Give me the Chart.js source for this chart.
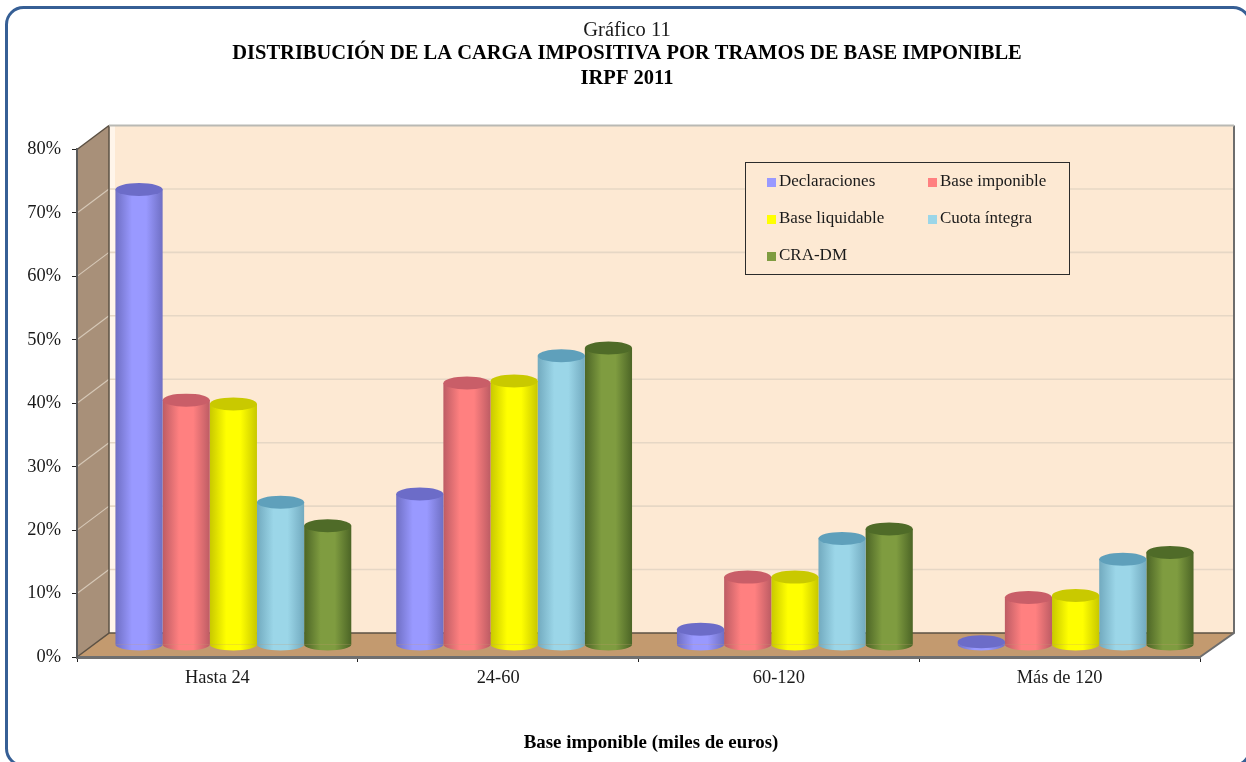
<html>
<head>
<meta charset="utf-8">
<style>
html, body { margin: 0; padding: 0; background: #ffffff; overflow: hidden; }
canvas { display: block; }
</style>
<script src="https://cdn.jsdelivr.net/npm/chart.js"></script>
</head>
<body>
<canvas id="grafico" width="1246" height="762"></canvas>
<script>
const tramos = ['Hasta 24', '24-60', '60-120', 'Más de 120'];
const declaraciones = [71.8, 23.8, 2.5, 0.5];
const baseImponible = [38.6, 41.3, 10.7, 7.5];
const baseLiquidable = [38, 41.6, 10.7, 7.8];
const cuotaIntegra = [22.5, 45.6, 16.8, 13.5];
const craDm = [18.8, 46.8, 18.3, 14.6];
const nombres = ['Declaraciones', 'Base imponible', 'Base liquidable', 'Cuota íntegra', 'CRA-DM'];
const yTicks = [0, 10, 20, 30, 40, 50, 60, 70, 80];

const FONT = '"Liberation Serif", "Times New Roman", serif';
const DEPTH_X = 32;
const DEPTH_Y = 24;

// side, middle, top cap colours of each cylinder
const colores = [
  ['#6f6fc4', '#9999ff', '#6c6cc8'],
  ['#bd5c64', '#ff8080', '#c95e68'],
  ['#c8c800', '#ffff00', '#c9c900'],
  ['#72aabf', '#9bd6e8', '#5fa0bb'],
  ['#4c6526', '#7f9c40', '#4f6b28']
];

function cylinderGradient(ctx, el, c) {
  const g = ctx.createLinearGradient(el.x - el.width / 2, 0, el.x + el.width / 2, 0);
  g.addColorStop(0, c[0]);
  g.addColorStop(0.35, c[1]);
  g.addColorStop(0.65, c[1]);
  g.addColorStop(1, c[0]);
  return g;
}

// frame, walls and floor behind the bars
const fondo3d = {
  id: 'fondo3d',
  afterLayout(chart) {
    // titles are centred a bit right of the plot
    chart.boxes.forEach(function (b) {
      if (!b.axis) {
        b.left += 17;
        b.right += 17;
      }
    });
  },
  beforeDraw(chart) {
    const ctx = chart.ctx;
    const a = chart.chartArea;
    const y = chart.scales.y;

    ctx.save();
    ctx.fillStyle = '#ffffff';
    ctx.fillRect(0, 0, chart.width, chart.height);

    ctx.strokeStyle = '#365f95';
    ctx.lineWidth = 3;
    ctx.beginPath();
    ctx.roundRect(6.5, 7.5, 1243.5, 758, 17);
    ctx.stroke();

    // back wall
    ctx.fillStyle = '#fde9d3';
    ctx.fillRect(a.left + DEPTH_X, a.top - DEPTH_Y, a.width + 2, a.height);
    ctx.fillStyle = '#fff5ea';
    ctx.fillRect(a.left + DEPTH_X, a.top - DEPTH_Y, 6, a.height);

    // side wall
    ctx.fillStyle = '#a89079';
    ctx.beginPath();
    ctx.moveTo(a.left, a.top);
    ctx.lineTo(a.left + DEPTH_X, a.top - DEPTH_Y);
    ctx.lineTo(a.left + DEPTH_X, a.bottom - DEPTH_Y);
    ctx.lineTo(a.left, a.bottom);
    ctx.closePath();
    ctx.fill();

    // floor
    ctx.fillStyle = '#c39a6f';
    ctx.beginPath();
    ctx.moveTo(a.left, a.bottom);
    ctx.lineTo(a.right, a.bottom);
    ctx.lineTo(a.right + DEPTH_X + 2, a.bottom - DEPTH_Y);
    ctx.lineTo(a.left + DEPTH_X, a.bottom - DEPTH_Y);
    ctx.closePath();
    ctx.fill();

    // gridlines along the side wall and the back wall
    yTicks.forEach(function (v) {
      if (v === 0 || v === 80) return;
      const py = y.getPixelForValue(v);
      ctx.strokeStyle = '#d6c8b7';
      ctx.lineWidth = 1.2;
      ctx.beginPath();
      ctx.moveTo(a.left, py);
      ctx.lineTo(a.left + DEPTH_X, py - DEPTH_Y);
      ctx.stroke();
      ctx.strokeStyle = '#e6d7c5';
      ctx.lineWidth = 1.6;
      ctx.beginPath();
      ctx.moveTo(a.left + DEPTH_X + 1, py - DEPTH_Y);
      ctx.lineTo(a.right + DEPTH_X + 2, py - DEPTH_Y);
      ctx.stroke();
    });

    // wall edges
    ctx.strokeStyle = '#5c5144';
    ctx.lineWidth = 1.5;
    ctx.beginPath();
    ctx.moveTo(a.left + DEPTH_X, a.top - DEPTH_Y);
    ctx.lineTo(a.left + DEPTH_X, a.bottom - DEPTH_Y);
    ctx.lineTo(a.left, a.bottom);
    ctx.moveTo(a.left + DEPTH_X, a.bottom - DEPTH_Y);
    ctx.lineTo(a.right + DEPTH_X + 2, a.bottom - DEPTH_Y);
    ctx.moveTo(a.left, a.top);
    ctx.lineTo(a.left + DEPTH_X, a.top - DEPTH_Y);
    ctx.stroke();
    ctx.strokeStyle = '#6d6d6d';
    ctx.lineWidth = 2;
    ctx.beginPath();
    ctx.moveTo(a.right + DEPTH_X + 2, a.top - DEPTH_Y);
    ctx.lineTo(a.right + DEPTH_X + 2, a.bottom - DEPTH_Y);
    ctx.lineTo(a.right, a.bottom);
    ctx.stroke();
    ctx.strokeStyle = '#b9b9b4';
    ctx.lineWidth = 2;
    ctx.beginPath();
    ctx.moveTo(a.left + DEPTH_X, a.top - DEPTH_Y);
    ctx.lineTo(a.right + DEPTH_X + 2, a.top - DEPTH_Y);
    ctx.stroke();
    ctx.restore();
  }
};

// bars stand in the middle of the floor and get round caps
const cilindros = {
  id: 'cilindros',
  beforeDatasetsDraw(chart) {
    chart.ctx.save();
    chart.ctx.translate(DEPTH_X / 2, -DEPTH_Y / 2);
  },
  beforeDatasetDraw(chart, args) {
    const c = colores[args.index];
    args.meta.data.forEach(function (el) {
      el.options = Object.assign({}, el.options, { backgroundColor: cylinderGradient(chart.ctx, el, c) });
    });
  },
  afterDatasetDraw(chart, args) {
    const ctx = chart.ctx;
    const c = colores[args.index];
    args.meta.data.forEach(function (el) {
      const rx = el.width / 2;
      ctx.fillStyle = cylinderGradient(ctx, el, c);
      ctx.beginPath();
      ctx.ellipse(el.x, el.base, rx, 6, 0, 0, Math.PI);
      ctx.fill();
      ctx.fillStyle = c[2];
      ctx.beginPath();
      ctx.ellipse(el.x, el.y, rx, 6.5, 0, 0, Math.PI * 2);
      ctx.fill();
    });
  },
  afterDatasetsDraw(chart) {
    chart.ctx.restore();
  }
};

// two column legend box over the back wall
const leyenda = {
  id: 'leyenda',
  afterDatasetsDraw(chart) {
    const ctx = chart.ctx;
    ctx.save();
    ctx.fillStyle = '#fde9d3';
    ctx.fillRect(745, 162.5, 324, 112);
    ctx.strokeStyle = '#2b2b2b';
    ctx.lineWidth = 1;
    ctx.strokeRect(745.5, 162.5, 324, 112);
    ctx.font = '17px ' + FONT;
    ctx.textBaseline = 'middle';
    chart.data.datasets.forEach(function (ds, i) {
      const col = i % 2;
      const row = Math.floor(i / 2);
      const x = 767 + col * 161;
      const yy = 182 + row * 37;
      ctx.fillStyle = colores[i][1];
      ctx.fillRect(x, yy - 4, 9, 9);
      ctx.fillStyle = '#1a1a1a';
      ctx.fillText(ds.label, x + 12, yy);
    });
    ctx.restore();
  }
};

const series = [declaraciones, baseImponible, baseLiquidable, cuotaIntegra, craDm];

new Chart(document.getElementById('grafico'), {
  type: 'bar',
  data: {
    labels: tramos,
    datasets: series.map(function (s, i) {
      return {
        label: nombres[i],
        data: s,
        backgroundColor: colores[i][1],
        borderWidth: 0,
        clip: false,
        categoryPercentage: 0.84,
        barPercentage: 1
      };
    })
  },
  plugins: [fondo3d, cilindros, leyenda],
  options: {
    responsive: false,
    animation: false,
    layout: { padding: { left: 20, right: 46, top: 20, bottom: 8 } },
    plugins: {
      legend: { display: false },
      tooltip: { enabled: false },
      title: {
        display: true,
        text: 'Gráfico 11',
        color: '#1a1a1a',
        font: { family: FONT, size: 20.5, weight: 'normal', lineHeight: 1 },
        padding: { top: 0, bottom: 0 }
      },
      subtitle: {
        display: true,
        text: ['DISTRIBUCIÓN DE LA CARGA IMPOSITIVA POR TRAMOS DE BASE IMPONIBLE', 'IRPF 2011'],
        color: '#000000',
        font: { family: FONT, size: 20.5, weight: 'bold', lineHeight: 1.195 },
        padding: { top: 1.25, bottom: 58.75 }
      }
    },
    scales: {
      x: {
        offset: true,
        grid: { offset: true, drawOnChartArea: false, drawTicks: true, tickLength: 5, color: '#222222' },
        border: { display: true, color: '#6f6f6f', width: 3 },
        ticks: { color: '#1a1a1a', font: { family: FONT, size: 18.4 }, padding: 5, maxRotation: 0 },
        title: {
          display: true,
          text: 'Base imponible (miles de euros)',
          color: '#000000',
          font: { family: FONT, size: 18.9, weight: 'bold' },
          padding: { top: 40, bottom: 0 }
        },
        afterFit(s) {
          s.height = 97;
          // axis title sits a bit right of the axis centre
          const drawTitle = s.drawTitle;
          if (!s.tituloMovido) {
            s.tituloMovido = true;
            s.drawTitle = function () {
              s.ctx.save();
              s.ctx.translate(12.5, 0);
              drawTitle.call(s);
              s.ctx.restore();
            };
          }
        }
      },
      y: {
        min: 0,
        max: 80,
        afterBuildTicks(s) { s.ticks = yTicks.map(function (v) { return { value: v }; }); },
        grid: { drawOnChartArea: false, drawTicks: true, tickLength: 5, color: '#222222' },
        border: { display: true, color: '#5a5a5a', width: 2 },
        ticks: {
          color: '#1a1a1a',
          font: { family: FONT, size: 18.4 },
          padding: 11,
          callback(v) { return v + '%'; }
        },
        afterFit(s) { s.width = 57; }
      }
    }
  }
});
</script>
</body>
</html>
